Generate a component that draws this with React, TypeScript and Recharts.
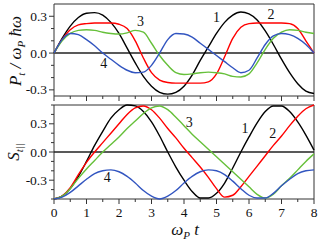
import React from "react";
import { LineChart, Line, XAxis, YAxis, ReferenceLine, ReferenceArea, ReferenceDot, Label } from "recharts";

const serif = "'Liberation Serif', 'DejaVu Serif', serif";
const frameColor = "#333";

// time axis (omega_P t)
const times = [
  0, 0.25, 0.5, 0.75, 1, 1.25, 1.5, 1.75, 2, 2.25, 2.5, 2.75, 3, 3.25, 3.5, 3.75, 4,
  4.25, 4.5, 4.75, 5, 5.25, 5.5, 5.75, 6, 6.25, 6.5, 6.75, 7, 7.25, 7.5, 7.75, 8,
];
const xTicks = [0, 0.5, 1, 1.5, 2, 2.5, 3, 3.5, 4, 4.5, 5, 5.5, 6, 6.5, 7, 7.5, 8];

// upper panel: P_t / (omega_P hbar omega)
const p1 = [0, 0.12, 0.22, 0.29, 0.325, 0.33, 0.31, 0.25, 0.16, 0.04, -0.08, -0.19, -0.27, -0.32, -0.335, -0.32, -0.27, -0.18, -0.06, 0.05, 0.16, 0.25, 0.31, 0.335, 0.32, 0.27, 0.18, 0.07, -0.05, -0.16, -0.25, -0.31, -0.33];
const p2 = [0, 0.11, 0.19, 0.23, 0.24, 0.245, 0.245, 0.245, 0.235, 0.2, 0.1, -0.04, -0.16, -0.22, -0.24, -0.245, -0.245, -0.245, -0.245, -0.235, -0.17, -0.03, 0.12, 0.21, 0.24, 0.245, 0.245, 0.245, 0.245, 0.24, 0.2, 0.1, 0];
const p3 = [0, 0.1, 0.16, 0.185, 0.19, 0.185, 0.17, 0.16, 0.155, 0.165, 0.185, 0.17, 0.08, -0.02, -0.1, -0.16, -0.175, -0.17, -0.16, -0.155, -0.16, -0.17, -0.19, -0.195, -0.17, -0.08, 0.03, 0.12, 0.17, 0.19, 0.185, 0.17, 0.16];
const p4 = [0, 0.11, 0.16, 0.15, 0.11, 0.06, 0, -0.05, -0.1, -0.14, -0.16, -0.155, -0.1, 0, 0.11, 0.16, 0.155, 0.13, 0.08, 0.03, -0.02, -0.07, -0.12, -0.16, -0.14, -0.04, 0.07, 0.14, 0.16, 0.15, 0.12, 0.07, 0];

// lower panel: S_t||
const s1 = [-0.5, -0.47, -0.39, -0.26, -0.1, 0.07, 0.22, 0.36, 0.45, 0.5, 0.49, 0.43, 0.32, 0.17, 0, -0.16, -0.3, -0.42, -0.49, -0.49, -0.44, -0.33, -0.17, 0, 0.16, 0.31, 0.43, 0.49, 0.49, 0.43, 0.32, 0.18, 0.02];
const s2 = [-0.5, -0.47, -0.38, -0.24, -0.11, 0, 0.1, 0.2, 0.3, 0.4, 0.47, 0.49, 0.45, 0.36, 0.25, 0.15, 0.04, -0.06, -0.16, -0.27, -0.39, -0.48, -0.46, -0.37, -0.26, -0.15, -0.04, 0.07, 0.17, 0.28, 0.38, 0.46, 0.5];
const s3 = [-0.5, -0.47, -0.39, -0.28, -0.18, -0.09, 0, 0.08, 0.16, 0.25, 0.33, 0.41, 0.47, 0.49, 0.45, 0.37, 0.28, 0.19, 0.11, 0.03, -0.05, -0.13, -0.21, -0.29, -0.37, -0.45, -0.49, -0.45, -0.36, -0.28, -0.19, -0.1, -0.02];
const s4 = [-0.5, -0.48, -0.43, -0.36, -0.29, -0.23, -0.2, -0.19, -0.21, -0.26, -0.33, -0.41, -0.47, -0.5, -0.47, -0.41, -0.33, -0.26, -0.21, -0.19, -0.2, -0.24, -0.31, -0.39, -0.46, -0.49, -0.49, -0.44, -0.36, -0.29, -0.23, -0.2, -0.19];

const topTicks = [-0.3, -0.2, -0.1, 0, 0.1, 0.2, 0.3];
const bottomTicks = [-0.5, -0.4, -0.3, -0.2, -0.1, 0, 0.1, 0.2, 0.3, 0.4, 0.5];

const colors = ["#000000", "#ff0000", "#66c03a", "#3255c0"];

// curve number annotations
const topNotes = [
  { n: "1", t: 5.0, v: 0.297 },
  { n: "2", t: 6.68, v: 0.319 },
  { n: "3", t: 2.66, v: 0.264 },
  { n: "4", t: 1.53, v: -0.078 },
];
const bottomNotes = [
  { n: "3", t: 4.16, v: 0.322 },
  { n: "1", t: 5.88, v: 0.255 },
  { n: "2", t: 6.73, v: 0.2 },
  { n: "4", t: 1.64, v: -0.263 },
];

const topData = times.map((t, i) => ({ t, a: p1[i], b: p2[i], c: p3[i], d: p4[i] }));
const bottomData = times.map((t, i) => ({ t, a: s1[i], b: s2[i], c: s3[i], d: s4[i] }));

function XTick(props: any) {
  const { x, y, payload, showLabel } = props;
  const v = payload.value;
  const major = Number.isInteger(v);
  return (
    <g>
      <line x1={x} x2={x} y1={y} y2={y + (major ? 5 : 3)} stroke={frameColor} />
      {showLabel && major && (
        <text x={x} y={y + 18} textAnchor="middle" fontSize={13.5} fontFamily={serif} fill="#111">
          {v}
        </text>
      )}
    </g>
  );
}

function YTick(props: any) {
  const { x, y, payload } = props;
  const v = payload.value;
  const major = Math.abs(Math.round(v * 10)) % 3 === 0;
  return (
    <g>
      <line x1={x - (major ? 5 : 3)} x2={x} y1={y} y2={y} stroke={frameColor} />
      {major && (
        <text x={x - 7} y={y + 4.5} textAnchor="end" fontSize={13.5} fontFamily={serif} fill="#111">
          {v.toFixed(1)}
        </text>
      )}
    </g>
  );
}

function series() {
  return ["a", "b", "c", "d"].map((k, i) => (
    <Line key={k} type="monotone" dataKey={k} stroke={colors[i]} strokeWidth={1.4} dot={false} isAnimationActive={false} />
  ));
}

export default function App() {
  return (
    <div style={{ position: "absolute", left: 0, top: 0, width: 319, height: 242, background: "#fff" }}>
      <div style={{ position: "absolute", left: 0, top: 0 }}>
        <LineChart width={319} height={102} data={topData} margin={{ top: 4, right: 5, bottom: 0, left: 14 }}>
          <XAxis dataKey="t" type="number" domain={[0, 8]} ticks={xTicks} height={6} axisLine={false} tickLine={false} tickSize={0} tickMargin={0} interval={0} tick={(p: any) => <XTick {...p} showLabel={false} />} />
          <YAxis type="number" domain={[-0.35, 0.4]} ticks={topTicks} width={40} axisLine={false} tickLine={false} tickSize={0} tickMargin={0} interval={0} tick={(p: any) => <YTick {...p} />}>
            <Label
              content={() => (
                <text transform="translate(21,51) rotate(-90)" textAnchor="middle" fontFamily={serif} fontStyle="italic" fontSize={17} fill="#111">
                  P<tspan fontSize={11} dy={4}>t</tspan>
                  <tspan dy={-4}> / ω</tspan>
                  <tspan fontSize={11} dy={4}>P</tspan>
                  <tspan dy={-4}> ħω</tspan>
                </text>
              )}
            />
          </YAxis>
          <ReferenceArea x1={0} x2={8} y1={-0.35} y2={0.4} fill="none" stroke={frameColor} strokeWidth={1} />
          <ReferenceLine y={0} stroke="#222" strokeWidth={1.5} />
          {series()}
          {topNotes.map((d) => (
            <ReferenceDot key={"t" + d.n} x={d.t} y={d.v} r={0} stroke="none" label={{ value: d.n, position: "center", fontSize: 14, fill: "#111", fontFamily: serif }} />
          ))}
        </LineChart>
      </div>
      <div style={{ position: "absolute", left: 0, top: 102 }}>
        <LineChart width={319} height={140} data={bottomData} margin={{ top: 3, right: 5, bottom: 0, left: 14 }}>
          <XAxis dataKey="t" type="number" domain={[0, 8]} ticks={xTicks} height={43} axisLine={false} tickLine={false} tickSize={0} tickMargin={0} interval={0} tick={(p: any) => <XTick {...p} showLabel={true} />}>
            <Label
              content={() => (
                <text x={185} y={133} textAnchor="middle" fontFamily={serif} fontStyle="italic" fontSize={17} fill="#111">
                  ω<tspan fontSize={11} dy={4}>P</tspan>
                  <tspan dy={-4}> t</tspan>
                </text>
              )}
            />
          </XAxis>
          <YAxis type="number" domain={[-0.5, 0.5]} ticks={bottomTicks} width={40} axisLine={false} tickLine={false} tickSize={0} tickMargin={0} interval={0} tick={(p: any) => <YTick {...p} />}>
            <Label
              content={() => (
                <text transform="translate(19,50) rotate(-90)" textAnchor="middle" fontFamily={serif} fontStyle="italic" fontSize={17} fill="#111">
                  S<tspan fontSize={11} dy={4}>t||</tspan>
                </text>
              )}
            />
          </YAxis>
          <ReferenceArea x1={0} x2={8} y1={-0.5} y2={0.5} fill="none" stroke={frameColor} strokeWidth={1} />
          <ReferenceLine y={0} stroke="#222" strokeWidth={1.5} />
          {series()}
          {bottomNotes.map((d) => (
            <ReferenceDot key={"b" + d.n} x={d.t} y={d.v} r={0} stroke="none" label={{ value: d.n, position: "center", fontSize: 14, fill: "#111", fontFamily: serif }} />
          ))}
        </LineChart>
      </div>
    </div>
  );
}
